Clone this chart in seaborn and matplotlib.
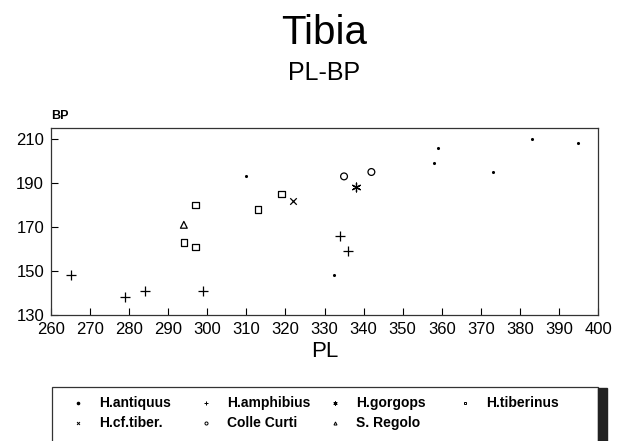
import numpy as np
import pandas as pd
import matplotlib
matplotlib.use("Agg")
import matplotlib.pyplot as plt
import seaborn as sns
from matplotlib.patches import Rectangle
from matplotlib.lines import Line2D

# values (PL vs BP of the tibia)
species = ["H.antiquus", "H.amphibius", "H.gorgops", "H.tiberinus",
           "H.cf.tiber.", "Colle Curti", "S. Regolo"]
antiquus_pl = [310, 332.5, 358, 359, 373, 383, 395]
antiquus_bp = [193, 148, 199, 206, 195, 210, 208]
amphibius_pl = [265, 279, 284, 299, 334, 336]
amphibius_bp = [148, 138, 141, 141, 166, 159]
gorgops_pl = [338]
gorgops_bp = [188]
tiberinus_pl = [294, 297, 297, 313, 319]
tiberinus_bp = [163, 180, 161, 178, 185]
cftiber_pl = [322]
cftiber_bp = [182]
collecurti_pl = [335, 342]
collecurti_bp = [193, 195]
sregolo_pl = [294]
sregolo_bp = [171]

x_ticks = list(range(260, 401, 10))
y_ticks = [130, 150, 170, 190, 210]

pl_lists = [antiquus_pl, amphibius_pl, gorgops_pl, tiberinus_pl,
            cftiber_pl, collecurti_pl, sregolo_pl]
bp_lists = [antiquus_bp, amphibius_bp, gorgops_bp, tiberinus_bp,
            cftiber_bp, collecurti_bp, sregolo_bp]
data = pd.concat([pd.DataFrame({"PL": p, "BP": b, "species": s})
                  for s, p, b in zip(species, pl_lists, bp_lists)],
                 ignore_index=True)

sns.set_style("ticks")
plt.rcParams["font.family"] = ["Liberation Sans", "DejaVu Sans"]
plt.rcParams["text.color"] = "black"
plt.rcParams["axes.labelcolor"] = "black"

# marker style per group: (marker, size, fill)
styles = {
    "H.antiquus": ("o", 5, "solid"),
    "H.amphibius": ("+", 45, "line"),
    "H.gorgops": ((6, 2, 0), 40, "line"),
    "H.tiberinus": ("s", 22, "open"),
    "H.cf.tiber.": ("x", 22, "line"),
    "Colle Curti": ("o", 24, "open"),
    "S. Regolo": ("^", 24, "open"),
}

fig = plt.figure(figsize=(6.22, 4.41), dpi=100)
ax = fig.add_axes([51 / 622, 1 - 315 / 441, (598 - 51) / 622, (315 - 128) / 441])

for s in species:
    m, size, fill = styles[s]
    sub = data[data["species"] == s]
    if fill == "open":
        sns.scatterplot(data=sub, x="PL", y="BP", marker=m, s=size, ax=ax,
                        facecolors="none", edgecolor="black", linewidth=0.9)
    elif fill == "solid":
        sns.scatterplot(data=sub, x="PL", y="BP", marker=m, s=size, ax=ax,
                        color="black", edgecolor="black", linewidth=0)
    else:
        sns.scatterplot(data=sub, x="PL", y="BP", marker=m, s=size, ax=ax,
                        color="black", linewidth=0.9)

ax.set_xlim(260, 400)
ax.set_ylim(130, 215)
ax.set_xticks(x_ticks)
ax.set_yticks(y_ticks)
ax.tick_params(direction="in", length=5, width=0.8, labelsize=12, pad=5,
               colors="black")
for sp in ax.spines.values():
    sp.set_visible(True)
    sp.set_linewidth(0.9)
    sp.set_color("#333333")
ax.set_xlabel("PL", fontsize=16, labelpad=3)
ax.set_ylabel("")
ax.text(0, 1.03, "BP", transform=ax.transAxes, fontsize=9, fontweight="bold",
        ha="left", va="bottom")

fig.text(324 / 622, 1 - 44 / 441, "Tibia", fontsize=29, ha="center", va="baseline")
fig.text(324 / 622, 1 - 80 / 441, "PL-BP", fontsize=18, ha="center", va="baseline")

# legend box below the plot (bottom edge runs off the page)
fig.patches.append(Rectangle((52 / 622, -0.05), (598 - 52) / 622, 0.05 + (441 - 387) / 441,
                             transform=fig.transFigure, facecolor="none",
                             edgecolor="#333333", linewidth=0.9))
fig.patches.append(Rectangle((598 / 622, 0), 9 / 622, (441 - 388) / 441,
                             transform=fig.transFigure, color="#222222"))

# legend entries, laid out row by row in four columns
col_x = [78, 206, 335, 465]
row_y = [403, 423]
for i, s in enumerate(species):
    m, size, fill = styles[s]
    cx = col_x[i % 4] / 622
    cy = 1 - row_y[i // 4] / 441
    ms = np.sqrt(size) * 0.45
    if fill == "open":
        mk = Line2D([cx], [cy], marker=m, markersize=ms, markerfacecolor="none",
                    markeredgecolor="black", markeredgewidth=0.7, linestyle="none",
                    transform=fig.transFigure)
    elif fill == "solid":
        mk = Line2D([cx], [cy], marker=m, markersize=1.6, color="black",
                    linestyle="none", transform=fig.transFigure)
    else:
        mk = Line2D([cx], [cy], marker=m, markersize=ms, color="black",
                    markeredgewidth=0.7, linestyle="none", transform=fig.transFigure)
    fig.add_artist(mk)
    fig.text(cx + 21 / 622, cy, s, fontsize=10, fontweight="bold",
             ha="left", va="center")

plt.savefig("out.png", dpi=100)
